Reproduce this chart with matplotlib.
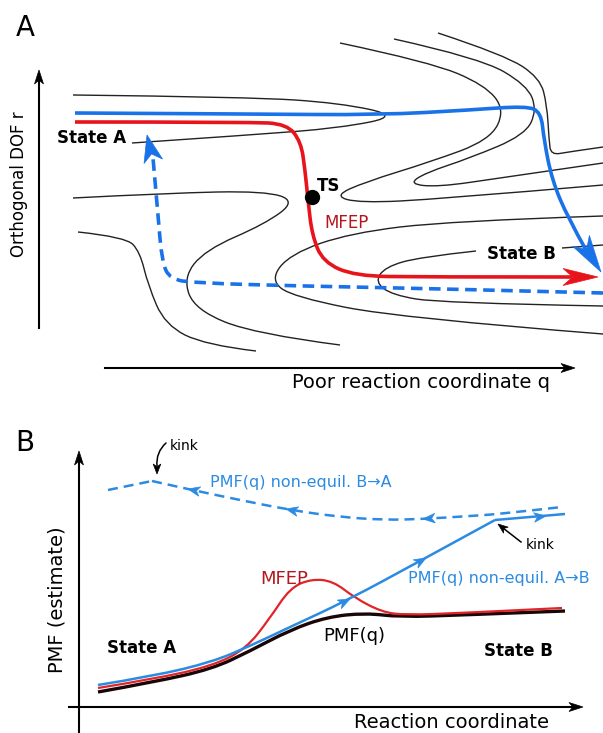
import matplotlib
matplotlib.use('Agg')
import matplotlib.pyplot as plt
import numpy as np
from matplotlib.path import Path
from matplotlib.patches import PathPatch, Polygon

# ---- panel A: free energy contours (control points, image pixel coords) ----
contour_1 = [(73, 95), (250, 97), (340, 103), (400, 116), (340, 128), (250, 135), (132, 143)]
contour_2 = [(73, 198), (170, 193), (265, 191), (296, 201), (265, 224), (205, 250), (183, 278),
             (195, 310), (255, 334), (340, 345)]
contour_3 = [(78, 232), (126, 237), (140, 252), (148, 285), (165, 325), (205, 345), (256, 351)]
contour_4 = [(340, 43), (430, 62), (485, 85), (505, 110), (490, 140), (430, 162), (365, 182),
             (334, 196), (360, 203), (440, 199), (603, 185)]
contour_5 = [(394, 39), (480, 58), (527, 85), (537, 110), (525, 135), (470, 158), (425, 173),
             (409, 184), (438, 187), (500, 178), (603, 163)]
contour_6 = [(438, 33), (505, 55), (540, 78), (547, 105), (549, 140), (551, 155), (568, 152), (603, 147)]
contour_7 = [(603, 216), (450, 221), (350, 233), (290, 254), (270, 280), (293, 297), (400, 318), (603, 334)]
contour_8 = [(476, 251), (420, 257), (385, 267), (375, 282), (392, 295), (440, 303), (603, 306)]
contour_9 = [(562, 248), (603, 245)]

mfep_path = [(75, 122), (250, 122), (287, 124), (301, 142), (305, 170), (308, 200), (312, 235),
             (323, 262), (355, 276), (420, 277), (572, 277)]
blue_path = [(75, 113), (250, 114), (380, 115), (470, 110), (526, 106), (541, 112), (544, 140),
             (552, 180), (568, 218), (586, 250)]
blue_back = [(603, 293), (450, 289), (300, 286), (195, 283), (170, 279), (162, 262), (158, 215), (153, 158)]
ts_point = (312, 197)

# ---- panel B: PMF curves ----
pmf_q = [(98, 692), (154, 682), (212, 669), (250, 651), (290, 630), (327, 617), (365, 613),
         (400, 617), (462, 615), (565, 611)]
pmf_mfep = [(98, 688), (154, 679), (212, 666), (246, 649), (270, 618), (290, 588), (311, 579),
            (333, 581), (355, 598), (382, 612), (405, 615), (462, 613), (562, 608)]
pmf_ab = [(98, 685), (154, 676), (212, 662), (250, 646), (290, 627), (346, 601), (420, 561), (495, 520)]
pmf_ab_end = [(495, 520), (565, 514)]
pmf_ba = [(108, 490), (152, 481)]
pmf_ba_rest = [(152, 481), (192, 490), (240, 500), (290, 510), (340, 517), (385, 520),
               (423, 519), (470, 516), (500, 514), (562, 507)]
ab_arrows = [((336, 606), (350, 599)), ((412, 566), (426, 558)), ((530, 518), (546, 516))]
ba_arrows = [((202, 492), (188, 489)), ((300, 512), (286, 509)), ((437, 518), (423, 519))]

red_a = '#e8141c'
blue_a = '#1a72e8'
blue_b = '#2b8be2'
red_b = '#e02428'
red_text = '#b3161d'


def spline_path(pts):
    pts = np.asarray(pts, float)
    if len(pts) == 2:
        return Path(pts, [Path.MOVETO, Path.LINETO])
    verts = [pts[0]]
    codes = [Path.MOVETO]
    for i in range(1, len(pts) - 1):
        end = (pts[i] + pts[i + 1]) / 2 if i < len(pts) - 2 else pts[i + 1]
        verts += [pts[i], end]
        codes += [Path.CURVE3, Path.CURVE3]
    return Path(verts, codes)


def curve(ax, pts, **kw):
    ax.add_patch(PathPatch(spline_path(pts), fill=False, **kw))


def stealth(ax, base, tip, length, half, color, notch=0.28):
    # concave-backed arrow head pointing from base towards tip
    tip = np.asarray(tip, float)
    d = tip - np.asarray(base, float)
    d /= np.hypot(*d)
    n = np.array([-d[1], d[0]])
    back = tip - d * length
    pts = [tip, back + n * half, tip - d * length * (1 - notch), back - n * half]
    ax.add_patch(Polygon(pts, closed=True, fc=color, ec=color, lw=0.5, zorder=4))


fig = plt.figure(figsize=(6.03, 7.33), dpi=100)
ax = fig.add_axes([0, 0, 1, 1])
ax.set_xlim(0, 603)
ax.set_ylim(733, 0)
ax.axis('off')

# panel A
for c in [contour_1, contour_2, contour_3, contour_4, contour_5, contour_6,
          contour_7, contour_8, contour_9]:
    curve(ax, c, lw=1.0, ec='#222222')

curve(ax, blue_back, lw=2.6, ec=blue_a, ls=(0, (3.2, 1.8)))
stealth(ax, (153, 160), (147, 135), 27, 9.5, blue_a)
curve(ax, mfep_path, lw=2.6, ec=red_a)
stealth(ax, (568, 277), (598, 277), 35, 8.5, red_a)
curve(ax, blue_path, lw=2.6, ec=blue_a)
stealth(ax, (583, 244), (601, 272), 37, 10, blue_a)
ax.plot(*ts_point, 'o', ms=10, color='black', zorder=5)

ax.plot([39, 39], [328, 80], color='black', lw=1.5)
stealth(ax, (39, 100), (39, 70), 14, 4.5, 'black')
ax.plot([105, 565], [368, 368], color='black', lw=1.5)
stealth(ax, (550, 368), (575, 368), 14, 4.5, 'black')

ax.text(25, 28, 'A', fontsize=20, ha='center', va='center')
ax.text(92, 138, 'State A', fontsize=12, fontweight='bold', ha='center', va='center')
ax.text(329, 186, 'TS', fontsize=12, fontweight='bold', ha='center', va='center')
ax.text(347, 223, 'MFEP', fontsize=12, color=red_text, ha='center', va='center')
ax.text(521, 254, 'State B', fontsize=12, fontweight='bold', ha='center', va='center')
ax.text(19, 184, 'Orthogonal DOF r', fontsize=12, rotation=90, ha='center', va='center')
ax.text(421, 383, 'Poor reaction coordinate q', fontsize=14, ha='center', va='center')

# panel B
ax.plot([79, 79], [740, 460], color='black', lw=1.5)
stealth(ax, (79, 480), (79, 451), 14, 4.5, 'black')
ax.plot([69, 573], [707, 707], color='black', lw=1.5)
stealth(ax, (560, 707), (583, 707), 14, 4.5, 'black')

curve(ax, pmf_q, lw=2.4, ec='#1a0606')
curve(ax, pmf_mfep, lw=1.6, ec=red_b)
curve(ax, pmf_ab, lw=1.8, ec=blue_b)
curve(ax, pmf_ab_end, lw=1.8, ec=blue_b)
curve(ax, pmf_ba, lw=1.8, ec=blue_b, ls=(0, (4, 2.4)))
curve(ax, pmf_ba_rest, lw=1.8, ec=blue_b, ls=(0, (4, 2.4)))
for b, t in ab_arrows + ba_arrows:
    stealth(ax, b, t, 12, 4.8, blue_b)

ax.annotate('', xy=(157, 466), xytext=(166, 443),
            arrowprops=dict(arrowstyle='-', color='black', lw=1.1, shrinkA=0, shrinkB=0,
                            connectionstyle='arc3,rad=0.25'))
stealth(ax, (157, 462), (157, 474), 10, 3.8, 'black')
ax.plot([521, 503], [542, 528], color='black', lw=1.1)
stealth(ax, (521, 542), (498, 524), 10, 3.8, 'black')

ax.text(25, 443, 'B', fontsize=20, ha='center', va='center')
ax.text(184, 446, 'kink', fontsize=10, ha='center', va='center')
ax.text(301, 482, 'PMF(q) non-equil. B\u2192A', fontsize=11.5, color=blue_b, ha='center', va='center')
ax.text(540, 545, 'kink', fontsize=10, ha='center', va='center')
ax.text(499, 578, 'PMF(q) non-equil. A\u2192B', fontsize=11.5, color=blue_b, ha='center', va='center')
ax.text(284, 579, 'MFEP', fontsize=13, color=red_text, ha='center', va='center')
ax.text(354, 636, 'PMF(q)', fontsize=13, ha='center', va='center')
ax.text(142, 648, 'State A', fontsize=12, fontweight='bold', ha='center', va='center')
ax.text(518, 651, 'State B', fontsize=12, fontweight='bold', ha='center', va='center')
ax.text(57, 600, 'PMF (estimate)', fontsize=14, rotation=90, ha='center', va='center')
ax.text(452, 722, 'Reaction coordinate', fontsize=14, ha='center', va='center')

fig.savefig('out.png', dpi=100)
